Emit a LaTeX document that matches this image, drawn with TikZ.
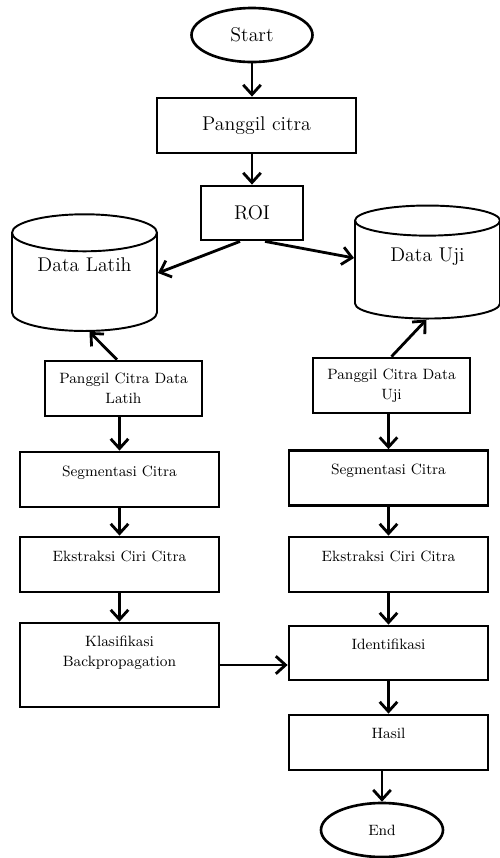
\documentclass[tikz,border=0pt]{standalone}
\usepackage{tikz}
\usetikzlibrary{shapes,arrows,calc,arrows.meta}
\usetikzlibrary{positioning}

\begin{document}
\begin{tikzpicture}[auto,
        terminal/.style={draw, ellipse, line width=1.5pt, minimum width=2.42cm, minimum height=1.08cm, inner sep=0pt},
        kotak/.style={draw, rectangle, line width=1.6pt, minimum width=3.98cm, minimum height=1.10cm, align=center, inner sep=1pt},
        basisdata/.style={draw, cylinder, shape border rotate=90, aspect=0.35, line width=1.1pt, minimum width=2.9cm, minimum height=2.28cm, text depth=0.84cm, font=\fontsize{11.3}{13}\selectfont},
        besar/.style={font=\fontsize{11.3}{13}\selectfont},
        kecil/.style={font=\fontsize{8.5}{11.4}\selectfont},
        naik/.style={text depth=0.35cm},
        every edge/.style={draw, line width=1.6pt, -{Straight Barb[length=5.5pt,width=10pt]}}]
            \useasboundingbox (0,0) rectangle (10,-17.16);
            \draw (5.04,-0.70) node[terminal, besar] (start) {Start};
            \draw (5.13,-2.51) node[kotak, besar] (panggil) {Panggil citra};
            \draw (5.04,-4.26) node[kotak, besar, minimum width=2.04cm, minimum height=1.08cm] (roi) {ROI};
            \draw (1.69,-5.72) node[basisdata] (latih) {Data Latih};
            \draw (8.55,-5.46) node[basisdata, minimum height=2.26cm, text depth=0.72cm] (uji) {Data Uji};
            \draw (2.47,-7.77) node[kotak, kecil, minimum width=3.14cm] (pclatih) {Panggil Citra Data\\Latih};
            \draw (7.83,-7.71) node[kotak, kecil, minimum width=3.14cm] (pcuji) {Panggil Citra Data\\Uji};
            \draw (2.39,-9.59) node[kotak, kecil, naik] (seglatih) {Segmentasi Citra};
            \draw (7.77,-9.56) node[kotak, kecil, naik] (seguji) {Segmentasi Citra};
            \draw (2.39,-11.29) node[kotak, kecil, naik] (ekslatih) {Ekstraksi Ciri Citra};
            \draw (7.77,-11.29) node[kotak, kecil, naik] (eksuji) {Ekstraksi Ciri Citra};
            \draw (2.39,-13.30) node[kotak, kecil, minimum height=1.68cm, text depth=0.55cm] (klas) {Klasifikasi\\Backpropagation};
            \draw (7.77,-13.06) node[kotak, kecil, naik, minimum height=1.08cm] (iden) {Identifikasi};
            \draw (7.77,-14.85) node[kotak, kecil, naik] (hasil) {Hasil};
            \draw (7.64,-16.60) node[terminal, kecil, minimum width=2.44cm] (end) {End};
            \path
            (start) edge (start |- panggil.north)
            (panggil.south -| roi) edge (roi)
            ([xshift=-0.24cm]roi.south) edge ([yshift=0.26cm]latih.east)
            ([xshift=0.26cm]roi.south) edge ([yshift=0.3cm]uji.west)
            ([xshift=-0.13cm]pclatih.north) edge ([xshift=0.1cm]latih.south)
            (pcuji.north) edge ([xshift=-0.02cm]uji.south)
            (pclatih.south -| seglatih) edge (seglatih)
            (seglatih) edge (ekslatih)
            (ekslatih) edge (klas)
            (klas.east) edge (klas.east -| iden.west)
            (pcuji.south -| seguji) edge (seguji)
            (seguji) edge (eksuji)
            (eksuji) edge (iden)
            (iden) edge (hasil)
            (hasil.south -| end) edge (end);
        \end{tikzpicture}
\end{document}
